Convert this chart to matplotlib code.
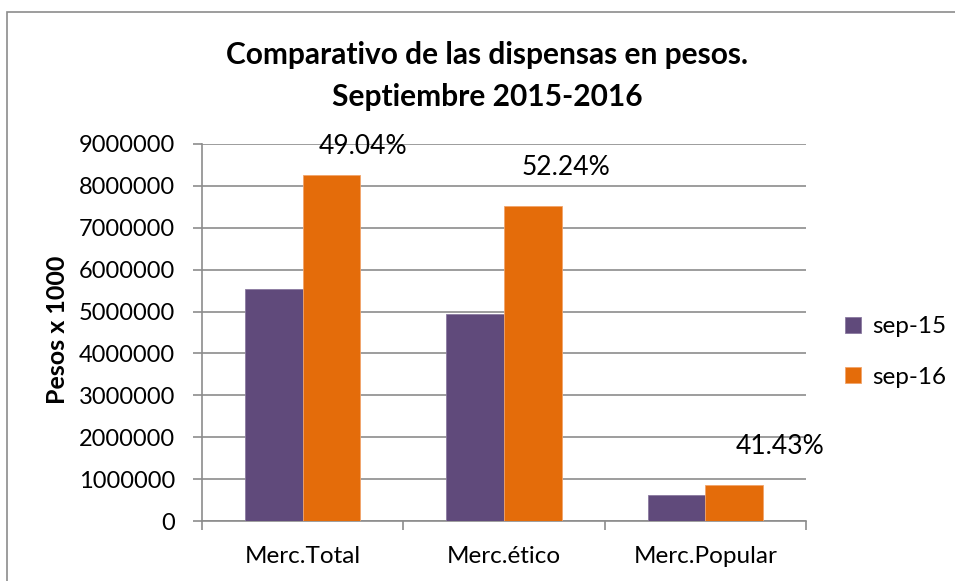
import matplotlib
matplotlib.use("Agg")
import matplotlib.pyplot as plt
import numpy as np
from matplotlib.patches import Rectangle

plt.rcParams['font.family'] = ['Lato', 'DejaVu Sans']

categories = ["Merc.Total", "Merc.ético", "Merc.Popular"]
series_names = ["sep-15", "sep-16"]
sep15 = [5550000, 4930000, 610000]
sep16 = [8270000, 7510000, 863000]
pct_labels = ["49.04%", "52.24%", "41.43%"]
yticks = [0, 1000000, 2000000, 3000000, 4000000, 5000000, 6000000, 7000000, 8000000, 9000000]

c15 = "#604A7B"
c16 = "#E46C0A"
grid_c = "#8C8C8C"

W, H = 955, 581
fig = plt.figure(figsize=(W / 100, H / 100), dpi=100)
fig.patch.set_facecolor("white")

# outer chart frame (only left/top visible)
fig.add_artist(Rectangle((7 / W, -0.05), 1.2, 1 - 12 / H + 0.05, transform=fig.transFigure,
                         fill=False, edgecolor="#8C8C8C", linewidth=1.2))

ax = fig.add_axes([202 / W, 1 - 521 / H, (806 - 202) / W, (521 - 144) / H])
x = np.arange(len(categories))
bw = 0.286
ax.bar(x - bw / 2, sep15, bw, color=c15, label=series_names[0], edgecolor="#8A79A0", linewidth=0.6, zorder=3)
ax.bar(x + bw / 2, sep16, bw, color=c16, label=series_names[1], edgecolor="#F2A46A", linewidth=0.6, zorder=3)

ax.set_xlim(-0.5, 2.5)
ax.set_ylim(0, 9000000)
ax.set_yticks(yticks)
ax.set_yticklabels([str(v) for v in yticks])
ax.yaxis.grid(True, color=grid_c, linewidth=1.2, zorder=0)
ax.set_axisbelow(True)

ax.set_xticks(x)
ax.set_xticklabels(categories)
ax.set_xticks([-0.5, 0.5, 1.5, 2.5], minor=True)
ax.tick_params(axis="x", which="major", length=0, pad=18, labelsize=17.5)
ax.tick_params(axis="x", which="minor", length=6.5, width=1.2, color=grid_c, direction="out")
ax.tick_params(axis="y", length=6.5, width=1.2, color=grid_c, pad=13, labelsize=17)

for s in ["top", "right"]:
    ax.spines[s].set_visible(False)
for s in ["left", "bottom"]:
    ax.spines[s].set_color(grid_c)
    ax.spines[s].set_linewidth(1.2)

ax.set_ylabel("Pesos x 1000", fontsize=18, fontweight="bold", labelpad=0)
ax.yaxis.set_label_coords(-(202 - 69) / (806 - 202), (521 - 330) / (521 - 144))

# percentage annotations
pct_pos = [(0.30, 8930000), (1.31, 8450000), (2.37, 1770000)]
for lab, (px, py) in zip(pct_labels, pct_pos):
    ax.text(px, py, lab, ha="center", va="center", fontsize=19, color="black")

fig.text(487 / W, 1 - 55 / H, "Comparativo de las dispensas en pesos.", ha="center", va="center",
         fontsize=21.5, fontweight="bold")
fig.text(487 / W, 1 - 97 / H, "Septiembre 2015-2016", ha="center", va="center",
         fontsize=21.5, fontweight="bold")

leg = ax.legend(loc="center left", bbox_to_anchor=(1.0, 0.47), frameon=False, fontsize=17.5,
                handlelength=0.65, handleheight=0.65, handletextpad=0.45, labelspacing=1.2,
                borderaxespad=0, borderpad=0)
leg.set_bbox_to_anchor((845 / W, 1 - 352 / H), transform=fig.transFigure)

fig.savefig("out.png", dpi=100, facecolor="white")
